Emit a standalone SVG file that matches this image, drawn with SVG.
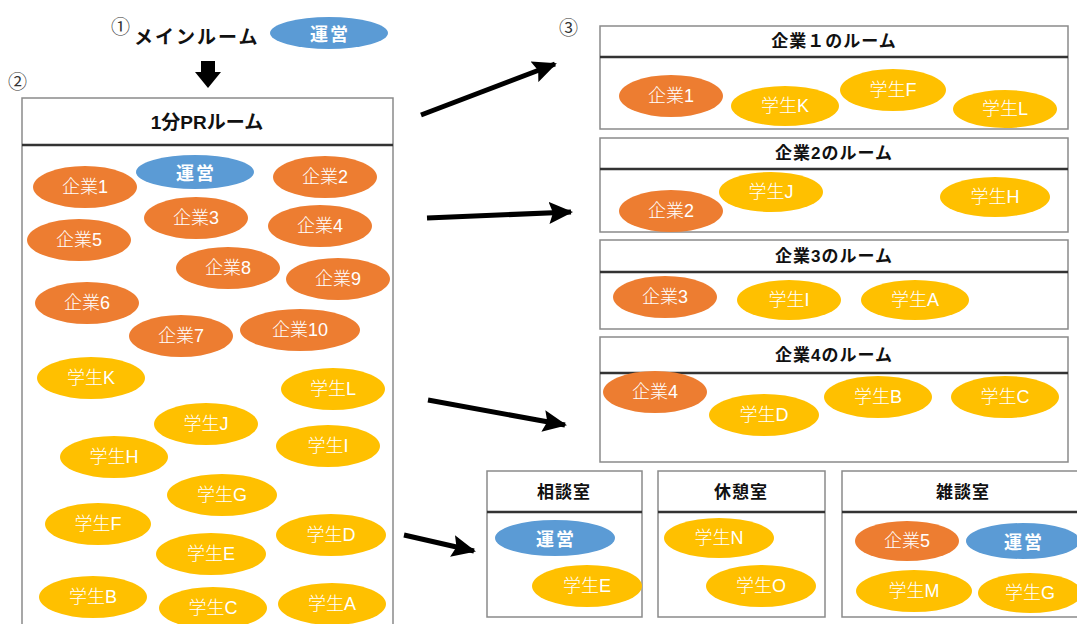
<svg xmlns="http://www.w3.org/2000/svg" width="1077" height="624" viewBox="0 0 1077 624">
<defs>
<style>
.box{fill:#fff;stroke:#8a8a8a;stroke-width:1.5}
.div{stroke:#333;stroke-width:2.5}
.hd{font-family:"Liberation Sans","Noto Sans CJK JP",sans-serif;font-weight:bold;font-size:17px;fill:#111;text-anchor:middle;letter-spacing:1px}
.co{fill:#ED7D31}
.st{fill:#FFC000}
.op{fill:#5B9BD5}
.t{font-family:"Liberation Sans","Noto Sans CJK JP",sans-serif;font-weight:300;font-size:18px;fill:#fff;text-anchor:middle;dominant-baseline:central}
.tb{font-family:"Noto Sans CJK JP",sans-serif;font-weight:bold;font-size:18px;fill:#fff;text-anchor:middle;dominant-baseline:central;letter-spacing:2px}
.num{font-family:"Noto Sans CJK JP",sans-serif;font-size:19px;fill:#333}
.arr{stroke:#000;stroke-width:5;fill:none;marker-end:url(#ah)}
</style>
<marker id="ah" markerUnits="userSpaceOnUse" markerWidth="24" markerHeight="22" refX="22" refY="11" orient="auto">
<path d="M0,0 L24,11 L0,22 L4,11 Z" fill="#000"/>
</marker>
</defs>

<g id="main-room">
<text class="num" x="111" y="34">①</text>
<text x="134" y="44" font-family="Noto Sans CJK JP, sans-serif" font-weight="bold" font-size="19" letter-spacing="2" fill="#111">メインルーム</text>
<ellipse class="op" cx="329" cy="33" rx="59" ry="16"/>
<text class="tb" x="330" y="33">運営</text>
<polygon points="201,61 215,61 215,72 221,72 208,88 195,72 201,72" fill="#000"/>
</g>

<g id="pr-room">
<text class="num" x="8" y="89">②</text>
<rect class="box" x="22" y="98" width="371" height="545"/>
<line class="div" x1="22" y1="145" x2="393" y2="145"/>
<text x="207" y="129" font-family="Liberation Sans, Noto Sans CJK JP, sans-serif" font-weight="bold" font-size="19" text-anchor="middle" fill="#111">1分PRルーム</text>
<ellipse class="op" cx="195" cy="172" rx="59" ry="17"/><text class="tb" x="196" y="172">運営</text>
<ellipse class="co" cx="85" cy="187" rx="52" ry="21"/><text class="t" x="85" y="187">企業1</text>
<ellipse class="co" cx="325" cy="177" rx="52" ry="21"/><text class="t" x="325" y="177">企業2</text>
<ellipse class="co" cx="196" cy="218" rx="52" ry="21"/><text class="t" x="196" y="218">企業3</text>
<ellipse class="co" cx="320" cy="226" rx="52" ry="21"/><text class="t" x="320" y="226">企業4</text>
<ellipse class="co" cx="79" cy="240" rx="52" ry="21"/><text class="t" x="79" y="240">企業5</text>
<ellipse class="co" cx="228" cy="268" rx="52" ry="21"/><text class="t" x="228" y="268">企業8</text>
<ellipse class="co" cx="338" cy="279" rx="52" ry="21"/><text class="t" x="338" y="279">企業9</text>
<ellipse class="co" cx="87" cy="303" rx="52" ry="21"/><text class="t" x="87" y="303">企業6</text>
<ellipse class="co" cx="181" cy="336" rx="52" ry="21"/><text class="t" x="181" y="336">企業7</text>
<ellipse class="co" cx="300" cy="330" rx="60" ry="21"/><text class="t" x="300" y="330">企業10</text>
<ellipse class="st" cx="91" cy="378" rx="54" ry="21"/><text class="t" x="91" y="378">学生K</text>
<ellipse class="st" cx="333" cy="389" rx="52" ry="21"/><text class="t" x="333" y="389">学生L</text>
<ellipse class="st" cx="206" cy="424" rx="52" ry="21"/><text class="t" x="206" y="424">学生J</text>
<ellipse class="st" cx="328" cy="446" rx="52" ry="21"/><text class="t" x="328" y="446">学生I</text>
<ellipse class="st" cx="114" cy="457" rx="54" ry="21"/><text class="t" x="114" y="457">学生H</text>
<ellipse class="st" cx="222" cy="495" rx="55" ry="21"/><text class="t" x="222" y="495">学生G</text>
<ellipse class="st" cx="98" cy="524" rx="53" ry="21"/><text class="t" x="98" y="524">学生F</text>
<ellipse class="st" cx="331" cy="535" rx="55" ry="21"/><text class="t" x="331" y="535">学生D</text>
<ellipse class="st" cx="211" cy="554" rx="55" ry="21"/><text class="t" x="211" y="554">学生E</text>
<ellipse class="st" cx="93" cy="597" rx="54" ry="21"/><text class="t" x="93" y="597">学生B</text>
<ellipse class="st" cx="213" cy="608" rx="54" ry="21"/><text class="t" x="213" y="608">学生C</text>
<ellipse class="st" cx="332" cy="604" rx="54" ry="21"/><text class="t" x="332" y="604">学生A</text>
</g>

<g id="room1">
<text class="num" x="559" y="35">③</text>
<rect class="box" x="600" y="26" width="468" height="103"/>
<line class="div" x1="600" y1="57" x2="1068" y2="57"/>
<text class="hd" x="834" y="47">企業１のルーム</text>
<ellipse class="co" cx="671" cy="96" rx="52" ry="21"/><text class="t" x="671" y="96">企業1</text>
<ellipse class="st" cx="785" cy="106" rx="54" ry="20"/><text class="t" x="785" y="106">学生K</text>
<ellipse class="st" cx="893" cy="90" rx="53" ry="21"/><text class="t" x="893" y="90">学生F</text>
<ellipse class="st" cx="1005" cy="109" rx="52" ry="19"/><text class="t" x="1005" y="109">学生L</text>
</g>

<g id="room2">
<rect class="box" x="600" y="138" width="468" height="94"/>
<line class="div" x1="600" y1="169" x2="1068" y2="169"/>
<text class="hd" x="834" y="159">企業2のルーム</text>
<ellipse class="co" cx="671" cy="211" rx="52" ry="21"/><text class="t" x="671" y="211">企業2</text>
<ellipse class="st" cx="771" cy="192" rx="52" ry="20"/><text class="t" x="771" y="192">学生J</text>
<ellipse class="st" cx="995" cy="197" rx="55" ry="20"/><text class="t" x="995" y="197">学生H</text>
</g>

<g id="room3">
<rect class="box" x="600" y="240" width="468" height="89"/>
<line class="div" x1="600" y1="272" x2="1068" y2="272"/>
<text class="hd" x="834" y="262">企業3のルーム</text>
<ellipse class="co" cx="665" cy="297" rx="52" ry="21"/><text class="t" x="665" y="297">企業3</text>
<ellipse class="st" cx="789" cy="300" rx="52" ry="20"/><text class="t" x="789" y="300">学生I</text>
<ellipse class="st" cx="915" cy="300" rx="54" ry="20"/><text class="t" x="915" y="300">学生A</text>
</g>

<g id="room4">
<rect class="box" x="600" y="337" width="468" height="125"/>
<line class="div" x1="600" y1="373" x2="1068" y2="373"/>
<text class="hd" x="834" y="361">企業4のルーム</text>
<ellipse class="co" cx="655" cy="392" rx="52" ry="21"/><text class="t" x="655" y="392">企業4</text>
<ellipse class="st" cx="764" cy="415" rx="55" ry="21"/><text class="t" x="764" y="415">学生D</text>
<ellipse class="st" cx="878" cy="397" rx="54" ry="21"/><text class="t" x="878" y="397">学生B</text>
<ellipse class="st" cx="1005" cy="397" rx="54" ry="21"/><text class="t" x="1005" y="397">学生C</text>
</g>

<g id="consult">
<rect class="box" x="487" y="471" width="155" height="146"/>
<line class="div" x1="487" y1="512" x2="642" y2="512"/>
<text class="hd" x="564" y="498">相談室</text>
<ellipse class="op" cx="555" cy="538" rx="60" ry="18"/><text class="tb" x="556" y="538">運営</text>
<ellipse class="st" cx="587" cy="586" rx="55" ry="21"/><text class="t" x="587" y="586">学生E</text>
</g>

<g id="rest">
<rect class="box" x="658" y="471" width="167" height="146"/>
<line class="div" x1="658" y1="512" x2="825" y2="512"/>
<text class="hd" x="741" y="498">休憩室</text>
<ellipse class="st" cx="719" cy="538" rx="55" ry="20"/><text class="t" x="719" y="538">学生N</text>
<ellipse class="st" cx="761" cy="586" rx="55" ry="21"/><text class="t" x="761" y="586">学生O</text>
</g>

<g id="chat">
<rect class="box" x="842" y="471" width="260" height="146"/>
<line class="div" x1="842" y1="512" x2="1102" y2="512"/>
<text class="hd" x="963" y="498">雑談室</text>
<ellipse class="co" cx="907" cy="541" rx="52" ry="20"/><text class="t" x="907" y="541">企業5</text>
<ellipse class="op" cx="1023" cy="541" rx="57" ry="18"/><text class="tb" x="1024" y="541">運営</text>
<ellipse class="st" cx="914" cy="591" rx="58" ry="21"/><text class="t" x="914" y="591">学生M</text>
<ellipse class="st" cx="1030" cy="593" rx="52" ry="20"/><text class="t" x="1030" y="593">学生G</text>
</g>

<g id="connectors">
<line class="arr" x1="421" y1="115" x2="555" y2="64"/>
<line class="arr" x1="427" y1="218" x2="571" y2="212"/>
<line class="arr" x1="428" y1="400" x2="565" y2="425"/>
<line class="arr" x1="404" y1="535" x2="474" y2="551"/>
</g>
</svg>
